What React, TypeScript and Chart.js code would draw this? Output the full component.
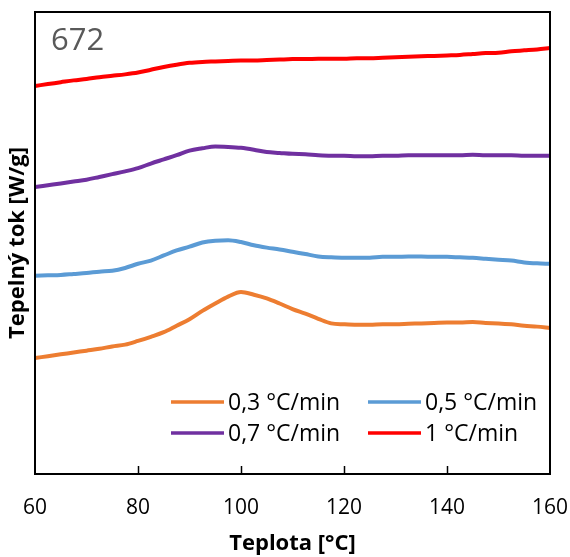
import React, { useEffect, useRef } from "react";
import { Chart, registerables } from "chart.js";

Chart.register(...registerables);

// ---- data (y in arbitrary heat-flow units) ----
const temperatures = [
  60, 62.5, 65, 67.5, 70, 72.5, 75, 77.5, 80, 82.5,
  85, 87.5, 90, 92.5, 95, 97.5, 100, 102.5, 105, 107.5,
  110, 112.5, 115, 117.5, 120, 122.5, 125, 127.5, 130, 132.5,
  135, 137.5, 140, 142.5, 145, 147.5, 150, 152.5, 155, 157.5, 160,
];

const rate03 = [
  2.51, 2.55, 2.59, 2.63, 2.67, 2.71, 2.76, 2.80, 2.88, 2.97,
  3.07, 3.21, 3.35, 3.53, 3.69, 3.84, 3.94, 3.88, 3.80, 3.69,
  3.57, 3.47, 3.36, 3.26, 3.24, 3.23, 3.23, 3.24, 3.24, 3.25,
  3.26, 3.27, 3.28, 3.28, 3.29, 3.27, 3.26, 3.24, 3.21, 3.19, 3.16,
];

const rate05 = [
  4.29, 4.30, 4.31, 4.33, 4.35, 4.38, 4.40, 4.46, 4.55, 4.62,
  4.73, 4.84, 4.92, 5.01, 5.05, 5.06, 5.02, 4.95, 4.90, 4.86,
  4.81, 4.76, 4.71, 4.69, 4.68, 4.68, 4.68, 4.70, 4.70, 4.71,
  4.71, 4.70, 4.70, 4.69, 4.68, 4.66, 4.64, 4.62, 4.58, 4.56, 4.55,
];

const rate07 = [
  6.21, 6.25, 6.29, 6.33, 6.37, 6.43, 6.49, 6.55, 6.62, 6.72,
  6.81, 6.90, 7.00, 7.05, 7.09, 7.08, 7.06, 7.02, 6.97, 6.95,
  6.93, 6.92, 6.90, 6.89, 6.89, 6.88, 6.88, 6.89, 6.89, 6.90,
  6.90, 6.90, 6.90, 6.90, 6.91, 6.90, 6.90, 6.90, 6.89, 6.89, 6.89,
];

const rate10 = [
  8.40, 8.44, 8.48, 8.52, 8.55, 8.59, 8.62, 8.65, 8.69, 8.75,
  8.81, 8.86, 8.90, 8.92, 8.93, 8.94, 8.95, 8.95, 8.96, 8.97,
  8.98, 8.98, 8.99, 8.99, 8.99, 9.00, 9.00, 9.01, 9.02, 9.03,
  9.04, 9.05, 9.06, 9.07, 9.09, 9.11, 9.12, 9.15, 9.17, 9.19, 9.22,
];

const seriesLabels = ["0,3 °C/min", "0,5 °C/min", "0,7 °C/min", "1 °C/min"];
const seriesValues = [rate03, rate05, rate07, rate10];
const seriesColors = ["#ED7D31", "#5B9BD5", "#7030A0", "#FF0000"];
const xTicks = [60, 80, 100, 120, 140, 160];
const sampleLabel = "672";
const xTitle = "Teplota [°C]";
const yTitle = "Tepelný tok [W/g]";

const FONT = '"Open Sans", "DejaVu Sans", sans-serif';

const overlayPlugin = {
  id: "overlay",
  afterDraw(chart: any) {
    const { ctx, chartArea: a, scales } = chart;
    ctx.save();
    // frame
    ctx.strokeStyle = "#000";
    ctx.lineWidth = 2;
    ctx.strokeRect(a.left, a.top, a.right - a.left, a.bottom - a.top);
    // inside tick marks on the x axis
    ctx.lineWidth = 1.5;
    for (const t of xTicks) {
      if (t === xTicks[0] || t === xTicks[xTicks.length - 1]) continue;
      const px = Math.round(scales.x.getPixelForValue(t)) + 0.5;
      ctx.beginPath();
      ctx.moveTo(px, a.bottom);
      ctx.lineTo(px, a.bottom - 8);
      ctx.stroke();
    }
    // sample label
    ctx.fillStyle = "#595959";
    ctx.font = `31px ${FONT}`;
    ctx.textBaseline = "alphabetic";
    ctx.textAlign = "left";
    ctx.fillText(sampleLabel, a.left + 16, a.top + 38);
    // legend (2 columns x 2 rows)
    const cols = [171, 368];
    const rows = [402, 433];
    ctx.font = `23px ${FONT}`;
    ctx.textBaseline = "middle";
    chart.data.datasets.forEach((ds: any, i: number) => {
      const x = cols[i % 2];
      const y = rows[Math.floor(i / 2)];
      ctx.strokeStyle = ds.borderColor;
      ctx.lineWidth = 3.5;
      ctx.beginPath();
      ctx.moveTo(x, y);
      ctx.lineTo(x + 53, y);
      ctx.stroke();
      ctx.fillStyle = "#000";
      ctx.fillText(ds.label, x + 57, y + 1);
    });
    ctx.restore();
  },
};

export default function App() {
  const ref = useRef<HTMLCanvasElement>(null);
  useEffect(() => {
    document.body.style.margin = "0";
    const datasets = seriesValues.map((vals, i) => ({
      label: seriesLabels[i],
      data: temperatures.map((t, j) => ({ x: t, y: vals[j] })),
      borderColor: seriesColors[i],
      backgroundColor: seriesColors[i],
      borderWidth: 4,
      pointRadius: 0,
      cubicInterpolationMode: "monotone" as const,
      fill: false,
    }));
    const chart = new Chart(ref.current!, {
      type: "line",
      data: { datasets },
      options: {
        responsive: false,
        animation: false,
        devicePixelRatio: 1,
        layout: { padding: { top: 12, right: 20, left: 0, bottom: 0 } },
        plugins: { legend: { display: false }, tooltip: { enabled: false } },
        scales: {
          x: {
            type: "linear",
            min: 60,
            max: 160,
            afterBuildTicks: (scale: any) => {
              scale.ticks = xTicks.map((v) => ({ value: v }));
            },
            ticks: {
              color: "#000",
              font: { family: FONT, size: 21 },
              padding: 13,
              maxRotation: 0,
            },
            grid: { display: false },
            border: { display: false },
            title: {
              display: true,
              text: xTitle,
              color: "#000",
              font: { family: FONT, size: 22, weight: "bold" },
              padding: { top: 0, bottom: 0 },
            },
            afterFit: (scale: any) => {
              scale.height = 83;
              scale.paddingLeft = 0;
              scale.paddingRight = 0;
            },
          },
          y: {
            type: "linear",
            min: 0,
            max: 10,
            ticks: { display: false },
            grid: { display: false },
            border: { display: false },
            title: {
              display: true,
              text: yTitle,
              color: "#000",
              font: { family: FONT, size: 22, weight: "bold" },
              padding: { top: 5, bottom: 0 },
            },
            afterFit: (scale: any) => {
              scale.width = 35;
              scale.paddingTop = 0;
              scale.paddingBottom = 0;
            },
          },
        },
      },
      plugins: [overlayPlugin],
    } as any);
    return () => chart.destroy();
  }, []);
  return (
    <div style={{ width: 570, height: 557 }}>
      <canvas ref={ref} width={570} height={557} style={{ display: "block" }} />
    </div>
  );
}
